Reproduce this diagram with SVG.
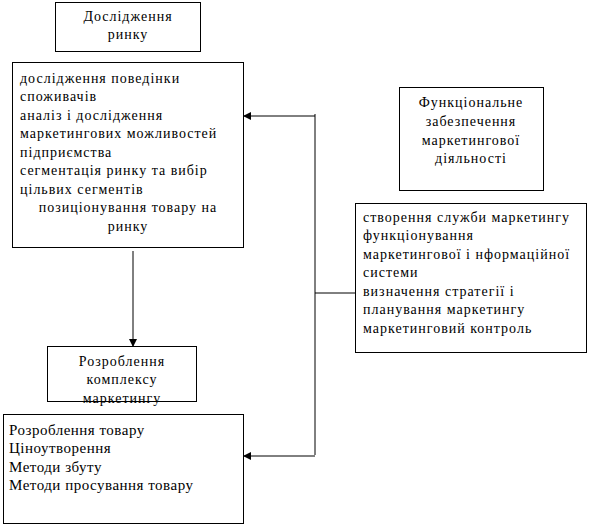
<svg xmlns="http://www.w3.org/2000/svg" width="589" height="525" viewBox="0 0 589 525">
<style>
rect{fill:#fff;stroke:#000;stroke-width:1}
text{font-family:"Liberation Serif","Times New Roman",serif;font-size:14px;letter-spacing:1px;fill:#000}
.c{text-anchor:middle}
.big{font-size:15px;letter-spacing:0.5px}
line,polyline{stroke:#000;stroke-width:1;fill:none}
</style>
<defs>
<marker id="ah" markerWidth="8" markerHeight="8" refX="7" refY="4" orient="auto" markerUnits="userSpaceOnUse">
<path d="M0,0 L8,4 L0,8 Z" fill="#000"/>
</marker>
</defs>
<g id="connectors">
<line x1="133" y1="251" x2="133" y2="346" marker-end="url(#ah)"/>
<polyline points="315,114 315,455"/>
<line x1="315" y1="116" x2="244" y2="116" marker-end="url(#ah)"/>
<line x1="315" y1="293" x2="355" y2="293"/>
<line x1="315" y1="456" x2="244" y2="456" marker-end="url(#ah)"/>
</g>
<g id="n1">
<rect x="55.5" y="2.5" width="145" height="49"/>
<text class="c" x="128" y="21">Дослідження</text>
<text class="c" x="128" y="39">ринку</text>
</g>
<g id="n2">
<rect x="12.5" y="62.5" width="231" height="185"/>
<text x="20" y="83">дослідження поведінки</text>
<text x="20" y="101">споживачів</text>
<text x="20" y="120">аналіз і дослідження</text>
<text x="20" y="138">маркетингових можливостей</text>
<text x="20" y="157">підприємства</text>
<text x="20" y="175">сегментація ринку та вибір</text>
<text x="20" y="194">цільвих сегментів</text>
<text class="c" x="128" y="212">позиціонування товару на</text>
<text class="c" x="128" y="231">ринку</text>
</g>
<g id="n3">
<rect x="399.5" y="87.5" width="144" height="103"/>
<text class="c" x="471" y="107">Функціональне</text>
<text class="c" x="471" y="126">забезпечення</text>
<text class="c" x="471" y="145">маркетингової</text>
<text class="c" x="471" y="163">діяльності</text>
</g>
<g id="n4">
<rect x="355.5" y="203.5" width="231" height="149"/>
<text x="363" y="222">створення служби маркетингу</text>
<text x="363" y="240">функціонування</text>
<text x="363" y="259">маркетингової і нформаційної</text>
<text x="363" y="277">системи</text>
<text x="363" y="296">визначення стратегії і</text>
<text x="363" y="314">планування маркетингу</text>
<text x="363" y="333">маркетинговий контроль</text>
</g>
<g id="n5">
<rect x="47.5" y="346.5" width="149" height="55"/>
<text class="c" x="122" y="366">Розроблення</text>
<text class="c" x="122" y="384">комплексу</text>
<text class="c" x="122" y="403">маркетингу</text>
</g>
<g id="n6">
<rect x="3.5" y="414.5" width="240" height="109"/>
<text class="big" x="9" y="435">Розроблення товару</text>
<text class="big" x="9" y="453">Ціноутворення</text>
<text class="big" x="9" y="472">Методи збуту</text>
<text class="big" x="9" y="490">Методи просування товару</text>
</g>
</svg>
